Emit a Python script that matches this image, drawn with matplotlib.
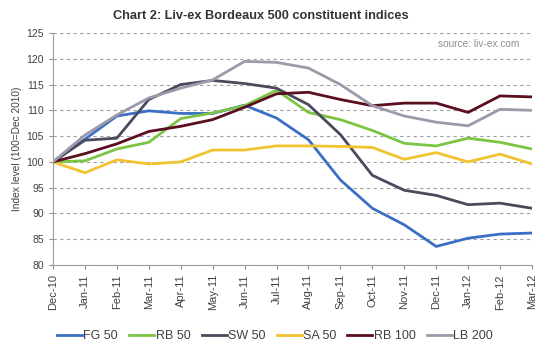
import matplotlib
matplotlib.use("Agg")
import matplotlib.pyplot as plt

plt.rcParams['font.family'] = ['Liberation Sans', 'DejaVu Sans']

months = ["Dec-10", "Jan-11", "Feb-11", "Mar-11", "Apr-11", "May-11", "Jun-11", "Jul-11",
          "Aug-11", "Sep-11", "Oct-11", "Nov-11", "Dec-11", "Jan-12", "Feb-12", "Mar-12"]

fg50 = [100, 104.4, 108.9, 109.9, 109.4, 109.4, 111.0, 108.5, 104.3, 96.5, 91.0, 87.8, 83.6, 85.2, 86.0, 86.2]
rb50 = [100, 100.2, 102.5, 103.8, 108.4, 109.5, 110.9, 113.9, 109.6, 108.2, 106.1, 103.6, 103.1, 104.6, 103.8, 102.5]
sw50 = [100, 104.2, 104.6, 112.1, 115.0, 115.8, 115.2, 114.3, 111.1, 105.3, 97.4, 94.5, 93.5, 91.7, 92.0, 91.0]
sa50 = [100, 97.9, 100.4, 99.6, 100.0, 102.3, 102.3, 103.1, 103.1, 103.0, 102.8, 100.5, 101.8, 100.0, 101.5, 99.6]
rb100 = [100, 101.6, 103.5, 105.9, 106.9, 108.2, 110.6, 113.2, 113.5, 112.1, 110.9, 111.4, 111.4, 109.6, 112.8, 112.6]
lb200 = [100, 105.2, 109.1, 112.4, 114.3, 115.9, 119.5, 119.3, 118.2, 115.0, 110.9, 108.9, 107.7, 107.0, 110.2, 110.0]

series = [
    ("FG 50", fg50, "#3B6FC6"),
    ("RB 50", rb50, "#7CC444"),
    ("SW 50", sw50, "#4A4A5E"),
    ("SA 50", sa50, "#F2C230"),
    ("RB 100", rb100, "#5A0E1E"),
    ("LB 200", lb200, "#9C9AAA"),
]

fig = plt.figure(figsize=(5.5, 3.47), dpi=100)
ax = fig.add_axes([53/550, 1-265/347, (532-53)/550, (265-33)/347])

x = list(range(len(months)))
for name, vals, col in series:
    ax.plot(x, vals, color=col, lw=2.0, label=name)

ax.set_xlim(0, len(months)-1)
ax.set_ylim(80, 125)
ax.set_yticks(range(80, 126, 5))
ax.set_xticks(x)
ax.set_xticklabels(months, rotation=90)
ax.tick_params(axis='x', labelsize=8, colors='#909090', labelcolor='#404040', length=3)
ax.tick_params(axis='y', labelsize=7.5, colors='#909090', labelcolor='#404040', length=3)
for s in ['top', 'right']:
    ax.spines[s].set_visible(False)
for s in ['left', 'bottom']:
    ax.spines[s].set_color('#A0A0A0')
ax.grid(axis='y', linestyle=(0, (3, 3)), color='#A0A0A0', lw=0.8)
ax.set_axisbelow(True)
ax.set_ylabel("Index level (100=Dec 2010)", fontsize=7.3, color='#404040', labelpad=3)

fig.text(261/550, 1-16/347, "Chart 2: Liv-ex Bordeaux 500 constituent indices",
         ha='center', va='center', fontsize=9.2, fontweight='bold', color='#333333')
ax.text((519-53)/479, (265-44)/232, "source: liv-ex.com", transform=ax.transAxes,
        ha='right', va='center', fontsize=7.3, color='#909090')

fig.legend(loc='center', bbox_to_anchor=(0.5, 1-336/347), ncol=6, frameon=False,
           fontsize=9, handlelength=2.0, handletextpad=0.1, columnspacing=0.9,
           labelcolor='#404040')

fig.savefig("out.png", dpi=100)
